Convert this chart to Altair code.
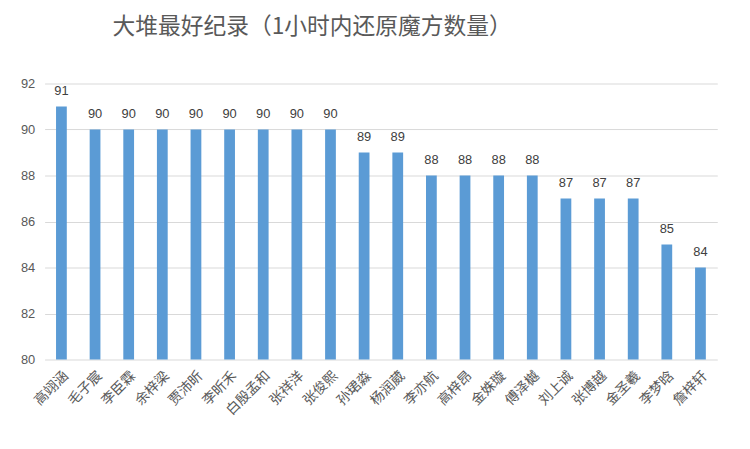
import pandas as pd
import altair as alt

names = ["高翊涵", "毛子宸", "李臣霖", "余梓梁", "贾沛昕", "李昕禾", "白殷孟和",
         "张祥洋", "张俊熙", "孙珺淼", "杨润葳", "李亦航", "高梓昂", "金姝璇",
         "傅泽樾", "刘上诚", "张博越", "金圣羲", "李梦晗", "詹梓轩"]
scores = [91, 90, 90, 90, 90, 90, 90, 90, 90, 89, 89, 88, 88, 88, 88, 87, 87, 87, 85, 84]

df = pd.DataFrame({"name": names, "score": scores})

cjk = "Noto Sans CJK SC"
num_font = "Liberation Sans Narrow, Liberation Sans"

base = alt.Chart(df).encode(
    x=alt.X("name:N", sort=None, title=None).scale(paddingInner=0.68, paddingOuter=0.34).axis(
        labelAngle=-45, labelFont=cjk, labelFontSize=14, labelColor="#595959",
        domain=False, ticks=False, labelPadding=9,
    ),
    y=alt.Y("score:Q", title=None).scale(domain=[80, 92], nice=False, zero=False).axis(
        values=[80, 82, 84, 86, 88, 90, 92], labelFont=num_font, labelFontSize=13,
        labelColor="#595959", domain=False, ticks=False, gridColor="#d9d9d9",
        labelPadding=10,
    ),
)

bars = base.mark_bar(color="#5b9bd5", clip=True)
labels = base.mark_text(baseline="alphabetic", dy=-12, font=num_font, fontSize=13, color="#404040").encode(
    text="score:Q"
)

chart = (bars + labels).properties(
    width=680,
    height=279,
    title=alt.Title("大堆最好纪录（1小时内还原魔方数量）", anchor="start", dx=93, offset=39,
                    font=cjk, fontSize=23, fontWeight="normal", color="#595959"),
    autosize=alt.AutoSizeParams(type="none"),
    padding={"left": 37, "top": 74, "right": 25, "bottom": 80},
).configure_view(stroke=None)

chart.save("out.html", embed_options={"renderer": "svg", "actions": False})
